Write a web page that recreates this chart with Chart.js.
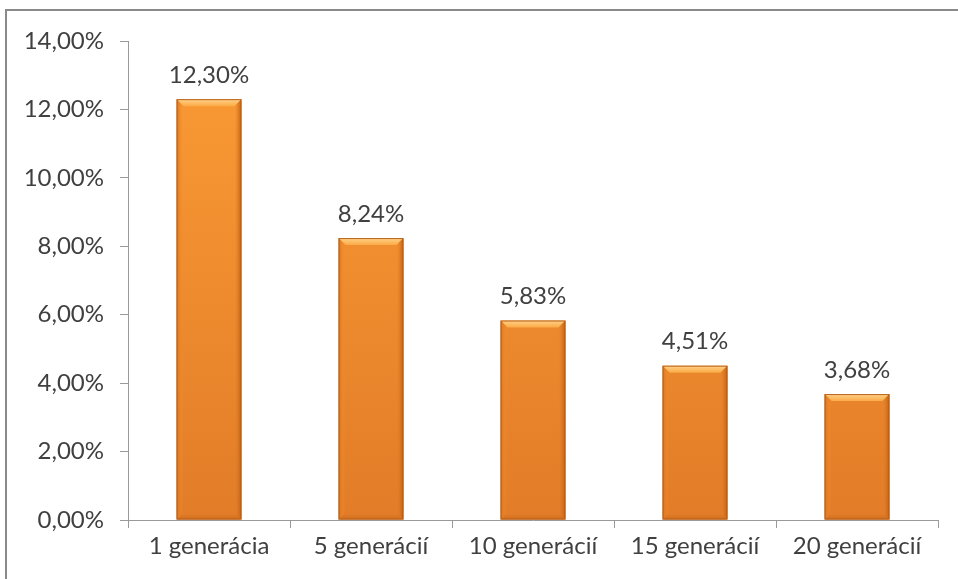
<!DOCTYPE html>
<html>
<head>
<meta charset="utf-8">
<script src="https://cdn.jsdelivr.net/npm/chart.js@4"></script>
<style>
  html, body { margin: 0; padding: 0; background: #fff; overflow: hidden; }
  #frame { position: absolute; left: 5px; top: 9px; width: 1100px; height: 800px; border: 2px solid #8a8a8a; }
  #wrap { position: absolute; left: 0; top: 0; width: 958px; height: 579px; }
</style>
</head>
<body>
<div id="frame"></div>
<div id="wrap"><canvas id="bar" width="958" height="579"></canvas></div>
<script>
const categories = ['1 generácia', '5 generácií', '10 generácií', '15 generácií', '20 generácií'];
const values = [12.30, 8.24, 5.83, 4.51, 3.68];
const yTicks = [0, 2, 4, 6, 8, 10, 12, 14];

const FONT = 'Lato, "Open Sans", sans-serif';
const pct = v => v.toFixed(2).replace('.', ',') + '%';

// bevelled orange bars + value labels, drawn from the bar elements
const bevel = {
    id: 'bevel',
    afterDatasetsDraw(chart) {
        const ctx = chart.ctx;
        chart.getDatasetMeta(0).data.forEach((bar, i) => {
            const l = bar.x - bar.width / 2, r = bar.x + bar.width / 2;
            const t = bar.y, b = bar.base;
            const e = 7;
            ctx.save();
            // top light bevel
            let g = ctx.createLinearGradient(0, t, 0, t + e);
            g.addColorStop(0, '#ffd28a');
            g.addColorStop(1, '#fbaa45');
            ctx.fillStyle = g;
            ctx.beginPath();
            ctx.moveTo(l, t); ctx.lineTo(r, t); ctx.lineTo(r - e, t + e); ctx.lineTo(l + e, t + e);
            ctx.closePath(); ctx.fill();
            // left edge
            g = ctx.createLinearGradient(l, 0, l + e, 0);
            g.addColorStop(0, '#d9731f');
            g.addColorStop(1, 'rgba(247,150,50,0)');
            ctx.fillStyle = g;
            ctx.beginPath();
            ctx.moveTo(l, t); ctx.lineTo(l + e, t + e); ctx.lineTo(l + e, b - e); ctx.lineTo(l, b);
            ctx.closePath(); ctx.fill();
            // right edge
            g = ctx.createLinearGradient(r, 0, r - e, 0);
            g.addColorStop(0, '#b95e18');
            g.addColorStop(1, 'rgba(230,130,40,0)');
            ctx.fillStyle = g;
            ctx.beginPath();
            ctx.moveTo(r, t); ctx.lineTo(r - e, t + e); ctx.lineTo(r - e, b - e); ctx.lineTo(r, b);
            ctx.closePath(); ctx.fill();
            // bottom edge
            g = ctx.createLinearGradient(0, b, 0, b - e);
            g.addColorStop(0, '#c86a1c');
            g.addColorStop(1, 'rgba(226,125,38,0)');
            ctx.fillStyle = g;
            ctx.beginPath();
            ctx.moveTo(l, b); ctx.lineTo(r, b); ctx.lineTo(r - e, b - e); ctx.lineTo(l + e, b - e);
            ctx.closePath(); ctx.fill();
            // outline
            ctx.strokeStyle = '#b8621c';
            ctx.lineWidth = 1;
            ctx.strokeRect(l + 0.5, t + 0.5, bar.width - 1, b - t - 1);
            // value label
            ctx.fillStyle = '#404040';
            ctx.font = '24px ' + FONT;
            ctx.textAlign = 'center';
            ctx.textBaseline = 'bottom';
            ctx.fillText(pct(values[i]), bar.x, t - 12);
            ctx.restore();
        });
    }
};

const ctx = document.getElementById('bar').getContext('2d');
const myChart = new Chart(ctx, {
    type: 'bar',
    data: {
        labels: categories,
        datasets: [{
            data: values,
            backgroundColor: c => {
                const area = c.chart.chartArea;
                if (!area) return '#f7963a';
                const g = c.chart.ctx.createLinearGradient(0, area.top, 0, area.bottom);
                g.addColorStop(0, '#fb9c35');
                g.addColorStop(1, '#e27c28');
                return g;
            },
            borderWidth: 0,
            barPercentage: 0.4,
            categoryPercentage: 1
        }]
    },
    options: {
        responsive: false,
        animation: false,
        events: [],
        layout: {
            padding: { top: 41, right: 20, left: 0, bottom: 0 }
        },
        plugins: {
            legend: { display: false },
            title: { display: false },
            tooltip: { enabled: false }
        },
        scales: {
            x: {
                grid: { drawOnChartArea: false, drawTicks: true, tickLength: 8, color: '#9a9a9a', offset: true },
                border: { color: '#9a9a9a', width: 1 },
                ticks: { color: '#404040', font: { family: FONT, size: 24 }, padding: 4, maxRotation: 0, autoSkip: false },
                afterFit: s => { s.height = 59; }
            },
            y: {
                min: 0,
                max: 14,
                afterBuildTicks: s => { s.ticks = yTicks.map(v => ({ value: v })); },
                grid: { drawOnChartArea: false, drawTicks: true, tickLength: 8, color: '#9a9a9a' },
                border: { color: '#9a9a9a', width: 1 },
                ticks: { color: '#404040', font: { family: FONT, size: 24 }, padding: 16, callback: v => pct(v) },
                afterFit: s => { s.width = 128; }
            }
        }
    },
    plugins: [bevel]
});
</script>
</body>
</html>
